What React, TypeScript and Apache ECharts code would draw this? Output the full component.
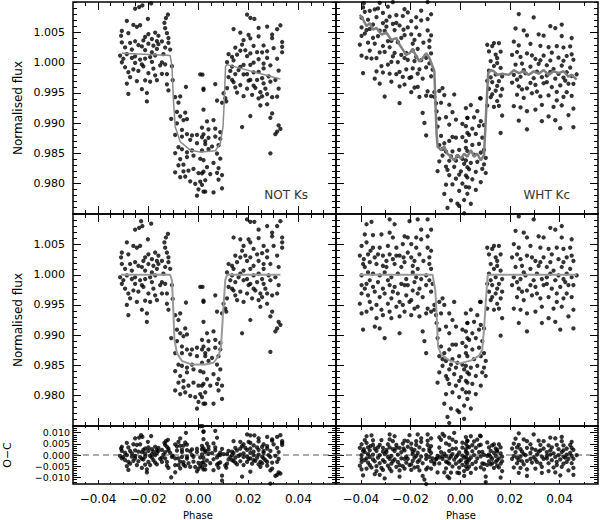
import React, { useEffect, useRef } from 'react';
import * as echarts from 'echarts';

// ---- tick labels ----
const phaseTicks = [-0.04, -0.02, 0, 0.02, 0.04];
const fluxTicks = [0.98, 0.985, 0.99, 0.995, 1.0, 1.005];
const ocTicks = [-0.01, -0.005, 0, 0.005, 0.01];

// ---- NOT Ks: detrended light curve (phase, normalised flux) ----
const leftPoints: [number, number][] = [
  [-0.0228,1.0089],[-0.0223,1.0081],[-0.0188,1.0085],[-0.0252,1.0075],[-0.0236,1.0078],[-0.0201,1.0059],[-0.0121,1.0068],[-0.0129,1.0062],[-0.0135,1.0054],[-0.0132,1.0045],[-0.0125,1.0037],[-0.0285,1.0054],[-0.0259,1.0048],[-0.0232,1.0048],[-0.0245,1.0045],[-0.0305,1.0037],[-0.0308,1.0029],[-0.0279,1.0034],[-0.0199,1.0034],[-0.0172,1.0037],[-0.0159,1.0032],[-0.0185,1.0026],[-0.0212,1.0029],[-0.0145,1.0023],[-0.0119,1.0029],[-0.0305,1.0018],[-0.0272,1.0018],[-0.0252,1.0021],[-0.0239,1.0015],[-0.0225,1.0013],[-0.0199,1.0018],[-0.0179,1.0015],[-0.0159,1.0018],[-0.0132,1.0013],[-0.0112,1.0010],[-0.0312,0.9996],[-0.0299,0.9991],[-0.0285,0.9999],[-0.0265,0.9993],[-0.0252,0.9996],[-0.0232,0.9991],[-0.0212,0.9993],[-0.0192,0.9996],[-0.0172,0.9999],[-0.0145,0.9988],[-0.0132,0.9985],[-0.0152,0.9983],[-0.0105,0.9983],[-0.0305,0.9985],[-0.0292,0.9977],[-0.0279,0.9969],[-0.0259,0.9974],[-0.0239,0.9972],[-0.0219,0.9980],[-0.0199,0.9969],[-0.0179,0.9977],[-0.0172,0.9966],[-0.0145,0.9969],[-0.0125,0.9969],[-0.0125,0.9952],[-0.0119,0.9942],[-0.0285,0.9950],[-0.0279,0.9933],[-0.0245,0.9955],[-0.0225,0.9942],[-0.0205,0.9936],[-0.0205,0.9922],[-0.0212,0.9957],[-0.0192,0.9955],
  [-0.0292,1.0010],[-0.0265,1.0007],[-0.0212,1.0007],[-0.0185,1.0004],[-0.0165,1.0010],[-0.0139,1.0002],[-0.0252,0.9985],[-0.0225,0.9983],[-0.0185,0.9988],[-0.0272,0.9961],[-0.0165,0.9958],[-0.0219,1.0023],[-0.0165,1.0023],[-0.0119,1.0021],
  [-0.0102,0.9960],[0.0017,0.9980],[-0.0049,0.9954],[0.0021,0.9957],[-0.0092,0.9933],[-0.0072,0.9936],[-0.0079,0.9925],[-0.0085,0.9909],[-0.0072,0.9903],[-0.0108,0.9895],[-0.0052,0.9911],[-0.0045,0.9901],[-0.0059,0.9898],[-0.0085,0.9890],[-0.0065,0.9881],[-0.0045,0.9876],[-0.0025,0.9876],[-0.0005,0.9879],[0.0015,0.9876],[-0.0092,0.9870],[-0.0065,0.9870],[-0.0032,0.9868],[-0.0005,0.9865],[0.0028,0.9870],[-0.0079,0.9851],[-0.0065,0.9849],[-0.0045,0.9846],[-0.0025,0.9851],[-0.0092,0.9840],[-0.0072,0.9832],[-0.0045,0.9838],[-0.0019,0.9843],[0.0008,0.9840],[-0.0079,0.9821],[-0.0059,0.9824],[-0.0039,0.9816],[-0.0019,0.9821],[0.0001,0.9816],[-0.0092,0.9808],[-0.0072,0.9802],[-0.0052,0.9805],[-0.0032,0.9799],[-0.0012,0.9797],[0.0008,0.9802],[0.0001,0.9789],[0.0021,0.9786],[-0.0005,0.9778],[0.0021,0.9819],[-0.0059,0.9813],
  [0.0008,0.9980],[0.0021,0.9955],[0.0068,0.9966],[0.0075,0.9939],[0.0021,0.9922],[0.0035,0.9903],[0.0061,0.9906],[0.0015,0.9892],[0.0041,0.9890],[0.0068,0.9892],[0.0088,0.9887],[0.0021,0.9881],[0.0041,0.9876],[0.0068,0.9879],[0.0088,0.9876],[0.0028,0.9865],[0.0055,0.9862],[0.0081,0.9865],[0.0015,0.9854],[0.0041,0.9857],[0.0075,0.9851],[0.0088,0.9843],[0.0021,0.9838],[0.0061,0.9835],[0.0081,0.9827],[0.0035,0.9827],[0.0015,0.9816],[0.0048,0.9816],[0.0075,0.9819],[0.0028,0.9805],[0.0081,0.9808],[0.0015,0.9797],[0.0095,0.9816],[0.0028,0.9786],[0.0061,0.9786],[0.0095,0.9794],
  [0.0101,0.9952],[0.0108,0.9944],[0.0095,0.9936],[0.0112,0.9939],[0.0115,0.9961],
  [0.0195,1.0092],[0.0208,1.0088],[0.0224,1.0088],[0.0328,1.0089],[0.0315,1.0081],[0.0241,1.0075],[0.0275,1.0081],[0.0295,1.0070],[0.0295,1.0064],[0.0335,1.0062],[0.0335,1.0054],[0.0335,1.0045],[0.0141,1.0062],[0.0168,1.0059],[0.0201,1.0059],[0.0241,1.0061],[0.0208,1.0054],[0.0181,1.0048],[0.0261,1.0048],[0.0301,1.0048],[0.0148,1.0032],[0.0168,1.0029],[0.0188,1.0032],[0.0208,1.0029],[0.0235,1.0034],[0.0255,1.0036],[0.0275,1.0040],[0.0275,1.0029],[0.0315,1.0032],[0.0121,1.0018],[0.0135,1.0015],[0.0155,1.0021],[0.0195,1.0023],[0.0221,1.0015],[0.0241,1.0023],[0.0261,1.0018],[0.0288,1.0018],[0.0141,1.0010],[0.0181,1.0007],[0.0208,1.0010],[0.0261,1.0010],[0.0321,1.0013],[0.0115,1.0004],[0.0135,0.9999],[0.0168,1.0002],[0.0221,0.9999],[0.0255,0.9993],[0.0128,0.9991],[0.0148,0.9988],[0.0181,0.9991],[0.0208,0.9985],[0.0235,0.9988],[0.0261,0.9985],[0.0288,0.9991],[0.0321,0.9983],[0.0121,0.9980],[0.0141,0.9974],[0.0168,0.9972],[0.0195,0.9969],[0.0221,0.9977],[0.0248,0.9969],[0.0275,0.9969],[0.0295,0.9966],[0.0315,0.9969],[0.0148,0.9966],[0.0181,0.9955],[0.0241,0.9958],[0.0255,0.9963],[0.0295,0.9939],[0.0288,0.9931],[0.0321,0.9922],[0.0328,0.9917],[0.0315,0.9911],[0.0308,0.9906],[0.0208,0.9925],[0.0175,0.9903],[0.0288,0.9872],
  [0.0161,0.9996],[0.0195,0.9993],[0.0241,1.0002],[0.0281,0.9999],[0.0308,0.9996],[0.0135,0.9977],[0.0201,0.9983],[0.0228,0.9974],[0.0268,0.9977],[0.0155,0.9958],[0.0215,0.9961],[0.0275,0.9952],[0.0248,0.9947],[0.0175,1.0040],[0.0221,1.0043],
];

// ---- WHT Kc: detrended light curve ----
const rightPoints: [number, number][] = [
  [-0.0377,1.0084],[-0.0357,1.0088],[-0.0284,1.0092],[-0.0264,1.0084],[-0.0204,1.0089],[-0.0171,1.0092],[-0.0131,1.0092],[-0.0157,1.0075],[-0.0117,1.0075],
  [-0.0384,1.0067],[-0.0351,1.0066],[-0.0317,1.0067],[-0.0284,1.0070],[-0.0271,1.0062],[-0.0224,1.0064],[-0.0211,1.0062],[-0.0177,1.0062],[-0.0157,1.0059],[-0.0131,1.0064],
  [-0.0397,1.0048],[-0.0377,1.0054],[-0.0351,1.0045],[-0.0324,1.0045],[-0.0291,1.0048],[-0.0257,1.0045],[-0.0231,1.0051],[-0.0197,1.0051],[-0.0177,1.0045],[-0.0131,1.0045],[-0.0117,1.0040],
  [-0.0404,1.0032],[-0.0371,1.0034],[-0.0344,1.0029],[-0.0311,1.0032],[-0.0284,1.0034],[-0.0271,1.0026],[-0.0244,1.0032],[-0.0211,1.0037],[-0.0197,1.0029],[-0.0164,1.0034],[-0.0124,1.0029],
  [-0.0391,1.0018],[-0.0384,1.0013],[-0.0364,1.0021],[-0.0337,1.0018],[-0.0311,1.0015],[-0.0297,1.0013],[-0.0264,1.0018],[-0.0237,1.0013],[-0.0224,1.0021],[-0.0191,1.0015],[-0.0171,1.0010],[-0.0124,1.0018],[-0.0117,1.0010],
  [-0.0397,0.9999],[-0.0371,1.0004],[-0.0351,1.0002],[-0.0324,0.9999],[-0.0304,1.0004],[-0.0277,0.9996],[-0.0251,1.0002],[-0.0217,0.9993],[-0.0191,1.0004],[-0.0177,0.9996],[-0.0137,0.9999],
  [-0.0397,0.9983],[-0.0377,0.9985],[-0.0351,0.9980],[-0.0331,0.9988],[-0.0311,0.9977],[-0.0284,0.9983],[-0.0264,0.9980],[-0.0237,0.9985],[-0.0211,0.9983],[-0.0184,0.9988],[-0.0164,0.9977],[-0.0137,0.9983],[-0.0111,0.9985],
  [-0.0397,0.9969],[-0.0371,0.9966],[-0.0344,0.9972],[-0.0324,0.9963],[-0.0304,0.9969],[-0.0277,0.9961],[-0.0251,0.9969],[-0.0217,0.9966],[-0.0197,0.9958],[-0.0171,0.9969],[-0.0151,0.9963],[-0.0117,0.9972],
  [-0.0404,0.9952],[-0.0364,0.9955],[-0.0337,0.9950],[-0.0317,0.9942],[-0.0291,0.9952],[-0.0257,0.9947],[-0.0231,0.9950],[-0.0204,0.9955],[-0.0171,0.9947],[-0.0131,0.9944],[-0.0104,0.9950],
  [-0.0397,0.9936],[-0.0377,0.9939],[-0.0337,0.9928],[-0.0311,0.9933],[-0.0277,0.9928],[-0.0244,0.9931],[-0.0224,0.9939],[-0.0197,0.9933],[-0.0164,0.9931],[-0.0137,0.9936],[-0.0117,0.9939],
  [-0.0391,0.9909],[-0.0344,0.9914],[-0.0324,0.9911],[-0.0304,0.9895],[-0.0244,0.9903],[-0.0151,0.9906],[-0.0144,0.9890],[-0.0137,0.9870],
  [-0.0388,1.0026],[-0.0361,1.0040],[-0.0331,1.0034],[-0.0297,1.0023],[-0.0257,1.0032],[-0.0228,1.0029],[-0.0184,1.0023],[-0.0148,1.0023],[-0.0364,0.9991],[-0.0291,0.9991],[-0.0224,0.9983],[-0.0157,0.9993],[-0.0124,0.9991],[-0.0384,0.9977],[-0.0271,0.9972],[-0.0191,0.9974],[-0.0357,0.9944],[-0.0244,0.9955],[-0.0184,0.9944],[-0.0284,0.9939],
  [-0.0104,0.9942],[-0.0097,0.9933],[-0.0095,0.9920],[-0.0084,0.9909],[-0.0091,0.9895],[-0.0084,0.9955],[-0.0071,0.9961],[-0.0064,0.9950],[-0.0044,0.9936],[-0.0024,0.9955],[-0.0031,0.9925],[-0.0057,0.9914],[-0.0044,0.9903],[-0.0017,0.9914],[0.0009,0.9909],[0.0029,0.9920],[-0.0077,0.9881],[-0.0064,0.9870],[-0.0044,0.9876],[-0.0017,0.9884],[0.0009,0.9887],[0.0029,0.9895],[-0.0084,0.9865],[-0.0057,0.9857],[-0.0031,0.9860],[-0.0004,0.9865],[0.0023,0.9870],[-0.0071,0.9849],[-0.0044,0.9843],[-0.0017,0.9846],[0.0009,0.9851],[-0.0084,0.9838],[-0.0057,0.9832],[-0.0024,0.9835],[0.0003,0.9830],[0.0029,0.9838],[-0.0091,0.9821],[-0.0044,0.9819],[-0.0017,0.9816],[0.0009,0.9810],[0.0029,0.9821],[-0.0057,0.9802],[-0.0031,0.9805],[-0.0004,0.9797],[0.0023,0.9805],[-0.0064,0.9786],[-0.0037,0.9778],[-0.0011,0.9775],[0.0016,0.9783],[-0.0051,0.9764],[-0.0004,0.9772],[-0.0044,0.9754],
  [-0.0071,0.9860],[-0.0037,0.9851],[-0.0011,0.9854],[0.0016,0.9843],[-0.0051,0.9827],[-0.0004,0.9824],[-0.0031,0.9884],[-0.0077,0.9936],
  [0.0023,0.9936],[0.0043,0.9942],[0.0069,0.9933],[0.0083,0.9955],[0.0029,0.9920],[0.0056,0.9922],[0.0083,0.9917],[0.0096,0.9911],[0.0023,0.9906],[0.0049,0.9903],[0.0076,0.9909],[0.0036,0.9892],[0.0063,0.9895],[0.0089,0.9890],[0.0023,0.9881],[0.0049,0.9876],[0.0076,0.9879],[0.0096,0.9870],[0.0029,0.9865],[0.0056,0.9860],[0.0083,0.9865],[0.0103,0.9857],[0.0023,0.9849],[0.0043,0.9846],[0.0069,0.9849],[0.0096,0.9846],[0.0036,0.9835],[0.0063,0.9832],[0.0089,0.9838],[0.0103,0.9832],[0.0023,0.9824],[0.0049,0.9819],[0.0083,0.9816],[0.0036,0.9805],[0.0063,0.9802],[0.0029,0.9794],[0.0043,0.9778],[0.0016,0.9761],
  [0.0109,1.0045],[0.0136,1.0048],[0.0156,1.0048],[0.0116,1.0034],[0.0143,1.0029],[0.0163,1.0034],[0.0123,1.0018],[0.0149,1.0015],[0.0136,1.0010],[0.0163,1.0007],[0.0116,1.0002],[0.0143,0.9996],[0.0169,0.9993],[0.0109,0.9985],[0.0129,0.9983],[0.0156,0.9985],[0.0116,0.9972],[0.0143,0.9969],[0.0169,0.9972],[0.0123,0.9958],[0.0149,0.9952],[0.0109,0.9944],[0.0136,0.9942],[0.0156,0.9944],[0.0169,0.9928],[0.0163,0.9899],[0.0080,0.9955],
  [0.0129,1.0043],[0.0149,1.0023],[0.0123,0.9991],[0.0149,0.9977],[0.0129,0.9963],[0.0163,0.9961],
  [0.0236,1.0097],[0.0296,1.0092],[0.0223,1.0073],[0.0256,1.0070],[0.0269,1.0062],[0.0316,1.0064],[0.0336,1.0062],[0.0363,1.0078],[0.0383,1.0075],[0.0409,1.0081],[0.0409,1.0062],[0.0449,1.0059],
  [0.0216,1.0051],[0.0236,1.0045],[0.0283,1.0048],[0.0323,1.0045],[0.0356,1.0043],[0.0389,1.0045],[0.0416,1.0043],[0.0443,1.0045],
  [0.0209,1.0029],[0.0243,1.0026],[0.0269,1.0032],[0.0303,1.0023],[0.0336,1.0029],[0.0363,1.0021],[0.0396,1.0026],[0.0429,1.0029],[0.0456,1.0023],
  [0.0223,1.0013],[0.0249,1.0015],[0.0283,1.0010],[0.0316,1.0015],[0.0349,1.0013],[0.0376,1.0007],[0.0409,1.0013],[0.0443,1.0010],
  [0.0216,0.9996],[0.0243,0.9993],[0.0263,0.9999],[0.0296,0.9991],[0.0329,0.9993],[0.0349,0.9996],[0.0383,0.9991],[0.0416,0.9993],[0.0449,0.9996],[0.0469,0.9999],
  [0.0209,0.9983],[0.0236,0.9977],[0.0269,0.9974],[0.0303,0.9980],[0.0336,0.9983],[0.0369,0.9977],[0.0403,0.9980],[0.0436,0.9983],
  [0.0229,0.9963],[0.0256,0.9958],[0.0289,0.9966],[0.0323,0.9961],[0.0356,0.9963],[0.0389,0.9955],[0.0416,0.9961],[0.0449,0.9963],
  [0.0216,0.9944],[0.0243,0.9942],[0.0269,0.9936],[0.0303,0.9939],[0.0329,0.9947],[0.0376,0.9944],[0.0409,0.9947],[0.0456,0.9942],
  [0.0236,0.9920],[0.0269,0.9906],[0.0329,0.9920],[0.0356,0.9928],[0.0383,0.9922],[0.0403,0.9909],[0.0436,0.9931],[0.0456,0.9911],
  [0.0229,1.0034],[0.0289,1.0029],[0.0323,1.0021],[0.0369,1.0034],[0.0416,1.0021],[0.0449,1.0032],[0.0256,1.0004],[0.0309,1.0002],[0.0363,1.0002],[0.0396,0.9999],[0.0429,1.0002],[0.0229,0.9988],[0.0283,0.9983],[0.0349,0.9985],[0.0423,0.9988],[0.0456,0.9983],[0.0249,0.9972],[0.0309,0.9969],[0.0389,0.9969],[0.0429,0.9969],
];

// ---- transit models (grey lines) ----
const leftModel: [number, number][] = [
  [-0.0308,1.0],[-0.0112,1.0],[-0.0105,0.9991],[-0.0099,0.9936],[-0.0095,0.9892],[-0.0085,0.9870],[-0.0065,0.9857],[-0.0025,0.9851],[0.0028,0.9851],[0.0061,0.9854],[0.0081,0.9865],[0.0091,0.9881],[0.0099,0.9936],[0.0108,0.9991],[0.0115,1.0],[0.0328,1.0],
];
const leftRawModel: [number, number][] = [
  [-0.0305,1.0016],[-0.0112,1.0012],[-0.0105,0.9994],[-0.0099,0.9938],[-0.0092,0.9894],[-0.0072,0.9869],[-0.0032,0.9855],[0.0008,0.9852],[0.0068,0.9854],[0.0088,0.9866],[0.0099,0.9894],[0.0104,0.9938],[0.0109,0.9994],[0.0115,0.9997],[0.0328,0.9973],
];
const rightModel: [number, number][] = [
  [-0.0404,1.0],[-0.0111,1.0],[-0.0100,0.9974],[-0.0095,0.9936],[-0.0089,0.9881],[-0.0077,0.9868],[-0.0044,0.9858],[0.0,0.9853],[0.0044,0.9858],[0.0077,0.9866],[0.0089,0.9876],[0.0097,0.9915],[0.0104,0.9960],[0.0111,1.0],[0.0469,1.0],
];
const rightRawModel: [number, number][] = [
  [-0.0404,1.0080],[-0.0391,1.0072],[-0.0377,1.0061],[-0.0364,1.0066],[-0.0351,1.0055],[-0.0337,1.0058],[-0.0317,1.0047],[-0.0297,1.0050],[-0.0277,1.0038],[-0.0257,1.0041],[-0.0244,1.0030],[-0.0231,1.0022],[-0.0217,1.0013],[-0.0204,1.0016],[-0.0191,1.0022],[-0.0177,1.0011],[-0.0164,1.0002],[-0.0151,1.0008],[-0.0137,1.0016],[-0.0124,1.0008],[-0.0111,0.9994],[-0.0104,0.9986],[-0.0100,0.9938],[-0.0095,0.9883],[-0.0091,0.9861],[-0.0077,0.9855],[-0.0064,0.9861],[-0.0051,0.9849],[-0.0037,0.9844],[-0.0024,0.9838],[-0.0011,0.9847],[0.0003,0.9841],[0.0016,0.9849],[0.0029,0.9844],[0.0043,0.9855],[0.0056,0.9844],[0.0069,0.9849],[0.0083,0.9838],[0.0096,0.9847],[0.0105,0.9922],[0.0113,0.9983],[0.0123,0.9988],[0.0136,0.9986],[0.0149,0.9980],[0.0169,0.9982],[0.0196,0.9980],[0.0216,0.9988],[0.0236,0.9983],[0.0256,0.9986],[0.0276,0.9980],[0.0296,0.9986],[0.0316,0.9982],[0.0336,0.9988],[0.0356,0.9980],[0.0376,0.9986],[0.0396,0.9983],[0.0416,0.9986],[0.0436,0.9977],[0.0449,0.9980],[0.0469,0.9972],
];

// ---- baseline trends (raw minus detrended) ----
const leftTrend: [number, number][] = [[-0.031,0.0016],[-0.011,0.0012],[0.0,0.0001],[0.0115,-0.0003],[0.034,-0.0028]];
const rightTrend: [number, number][] = [[-0.041,0.0080],[-0.036,0.0064],[-0.030,0.0048],[-0.0244,0.0030],[-0.018,0.0014],[-0.0124,0.0008],[-0.0100,0.0],[0.0,-0.0010],[0.0105,-0.0015],[0.047,-0.0018]];

function interp(curve: [number, number][], x: number): number {
  if (x <= curve[0][0]) return curve[0][1];
  for (let i = 1; i < curve.length; i++) {
    if (x <= curve[i][0]) {
      const [x0, y0] = curve[i - 1];
      const [x1, y1] = curve[i];
      return y0 + ((y1 - y0) * (x - x0)) / (x1 - x0);
    }
  }
  return curve[curve.length - 1][1];
}

function steps(from: number, to: number, step: number, exclude: number[]): number[] {
  const out: number[] = [];
  const n = Math.round((to - from) / step);
  for (let i = 0; i <= n; i++) {
    const v = +(from + i * step).toFixed(4);
    if (!exclude.some((e) => Math.abs(e - v) < 1e-9)) out.push(v);
  }
  return out;
}

const FONT = 'DejaVu Sans';
const minus = (s: string) => s.replace('-', '\u2212');

function buildOption() {
  const X_L: [number, number] = [-0.05, 0.055];
  const X_R: [number, number] = [-0.05, 0.0555];
  const Y_F: [number, number] = [0.9749, 1.0101];
  const Y_OC: [number, number] = [-0.013, 0.013];
  const xMinorL = steps(-0.045, 0.05, 0.005, phaseTicks);
  const xMinorR = steps(-0.03, 0.05, 0.01, phaseTicks);
  const yMinorF = steps(0.975, 1.01, 0.001, fluxTicks);
  const yMinorOC = steps(-0.012, 0.012, 0.001, ocTicks);

  const xLabel = { fontFamily: FONT, fontSize: 12, color: '#000', margin: 9, formatter: (v: number) => minus(v.toFixed(2)) };
  const fLabel = { fontFamily: FONT, fontSize: 11, color: '#000', margin: 8, formatter: (v: number) => v.toFixed(3) };
  const oLabel = { fontFamily: FONT, fontSize: 9.5, lineHeight: 10, color: '#000', margin: 3, showMinLabel: true, showMaxLabel: true, formatter: (v: number) => minus(v.toFixed(3)) };

  const panels = [
    { grid: { left: 73, top: 2, width: 263, height: 212 }, xr: X_L, yr: Y_F, xMin: xMinorL, yMaj: fluxTicks, yMin: yMinorF, xLen: [8, 4], xLab: null, yLab: fLabel },
    { grid: { left: 336, top: 2, width: 262, height: 212 }, xr: X_R, yr: Y_F, xMin: xMinorR, yMaj: fluxTicks, yMin: yMinorF, xLen: [8, 4], xLab: null, yLab: null },
    { grid: { left: 73, top: 214, width: 263, height: 212 }, xr: X_L, yr: Y_F, xMin: xMinorL, yMaj: fluxTicks, yMin: yMinorF, xLen: [8, 4], xLab: null, yLab: fLabel },
    { grid: { left: 336, top: 214, width: 262, height: 212 }, xr: X_R, yr: Y_F, xMin: xMinorR, yMaj: fluxTicks, yMin: yMinorF, xLen: [8, 4], xLab: null, yLab: null },
    { grid: { left: 73, top: 426, width: 263, height: 58 }, xr: X_L, yr: Y_OC, xMin: xMinorL, yMaj: ocTicks, yMin: yMinorOC, xLen: [4, 2], xLab: xLabel, yLab: oLabel },
    { grid: { left: 336, top: 426, width: 262, height: 58 }, xr: X_R, yr: Y_OC, xMin: xMinorR, yMaj: ocTicks, yMin: yMinorOC, xLen: [4, 2], xLab: xLabel, yLab: null },
  ];

  const grids: any[] = [];
  const xAxes: any[] = [];
  const yAxes: any[] = [];
  const mainX: number[] = [];
  const mainY: number[] = [];

  const mk = (gridIndex: number, range: [number, number], position: string, values: number[], len: number, label: any) => ({
    type: 'value', gridIndex, position, min: range[0], max: range[1],
    axisLine: { show: false, onZero: false },
    splitLine: { show: false },
    axisTick: { show: true, inside: true, length: len, customValues: values, lineStyle: { color: '#000', width: 1 } },
    axisLabel: label ? { show: true, customValues: values, ...label } : { show: false },
    axisPointer: { show: false },
    silent: true,
  });

  panels.forEach((p, i) => {
    grids.push({ ...p.grid, show: true, borderColor: '#000', borderWidth: 1.5, backgroundColor: 'transparent', containLabel: false, outerBoundsMode: 'none' });
    mainX.push(xAxes.length);
    xAxes.push(mk(i, p.xr, 'bottom', phaseTicks, p.xLen[0], p.xLab));
    xAxes.push(mk(i, p.xr, 'bottom', p.xMin, p.xLen[1], null));
    xAxes.push(mk(i, p.xr, 'top', phaseTicks, p.xLen[0], null));
    xAxes.push(mk(i, p.xr, 'top', p.xMin, p.xLen[1], null));
    mainY.push(yAxes.length);
    yAxes.push(mk(i, p.yr, 'left', p.yMaj, 8, p.yLab));
    yAxes.push(mk(i, p.yr, 'left', p.yMin, 4, null));
    yAxes.push(mk(i, p.yr, 'right', p.yMaj, 8, null));
    yAxes.push(mk(i, p.yr, 'right', p.yMin, 4, null));
  });

  const topLeft = leftPoints.map(([ph, f]) => [ph, f + interp(leftTrend, ph)]);
  const topRight = rightPoints.map(([ph, f]) => [ph, f + interp(rightTrend, ph)]);
  const ocLeft = leftPoints.map(([ph, f]) => [ph, f - interp(leftModel, ph)]);
  const ocRight = rightPoints.map(([ph, f]) => [ph, f - interp(rightModel, ph)]);

  const scatter = (i: number, data: any[]) => ({
    type: 'scatter', xAxisIndex: mainX[i], yAxisIndex: mainY[i], data,
    symbol: 'circle', symbolSize: 4.3, itemStyle: { color: '#000' }, silent: true, z: 2,
  });
  const line = (i: number, data: any[], color: string, width: number) => ({
    type: 'line', xAxisIndex: mainX[i], yAxisIndex: mainY[i], data,
    symbol: 'none', showSymbol: false, lineStyle: { color, width }, silent: true, z: 4,
  });
  const zero = (i: number, r: [number, number]) => ({
    type: 'line', xAxisIndex: mainX[i], yAxisIndex: mainY[i], data: [[r[0], 0], [r[1], 0]],
    symbol: 'none', showSymbol: false, lineStyle: { color: '#555', width: 1, type: [6, 4] }, silent: true, z: 1,
  });

  const series = [
    scatter(0, topLeft), line(0, leftRawModel, '#8a8a8a', 1.5),
    scatter(1, topRight), line(1, rightRawModel, '#808080', 2.5),
    scatter(2, leftPoints), line(2, leftModel, '#999999', 2),
    scatter(3, rightPoints), line(3, rightModel, '#999999', 2),
    zero(4, X_L), scatter(4, ocLeft),
    zero(5, X_R), scatter(5, ocRight),
  ];

  const txt = (x: number, y: number, text: string, size: number, opts: any = {}) => ({
    type: 'text', x, y, rotation: opts.rotation || 0, silent: true, z: 20,
    style: { text, fontFamily: FONT, fontSize: size, fill: opts.fill || '#000', align: opts.align || 'center', verticalAlign: 'middle' },
  });

  return {
    animation: false,
    backgroundColor: '#fff',
    textStyle: { fontFamily: FONT },
    grid: grids,
    xAxis: xAxes,
    yAxis: yAxes,
    series,
    graphic: [
      txt(18, 108, 'Normalised flux', 12, { rotation: Math.PI / 2 }),
      txt(18, 320, 'Normalised flux', 12, { rotation: Math.PI / 2 }),
      txt(7, 455, 'O\u2212C', 11, { rotation: Math.PI / 2 }),
      txt(198, 515, 'Phase', 10, {}),
      txt(461, 515, 'Phase', 10, {}),
      txt(308, 195, 'NOT Ks', 12, { align: 'right', fill: '#333' }),
      txt(570, 195, 'WHT Kc', 12, { align: 'right', fill: '#333' }),
    ],
  };
}

export default function App() {
  const ref = useRef<HTMLDivElement>(null);
  useEffect(() => {
    if (!ref.current) return;
    const chart = echarts.init(ref.current, null, { renderer: 'svg' });
    chart.setOption(buildOption() as any);
    return () => chart.dispose();
  }, []);
  return <div ref={ref} style={{ position: 'absolute', left: 0, top: 0, width: 600, height: 520, background: '#fff' }} />;
}
